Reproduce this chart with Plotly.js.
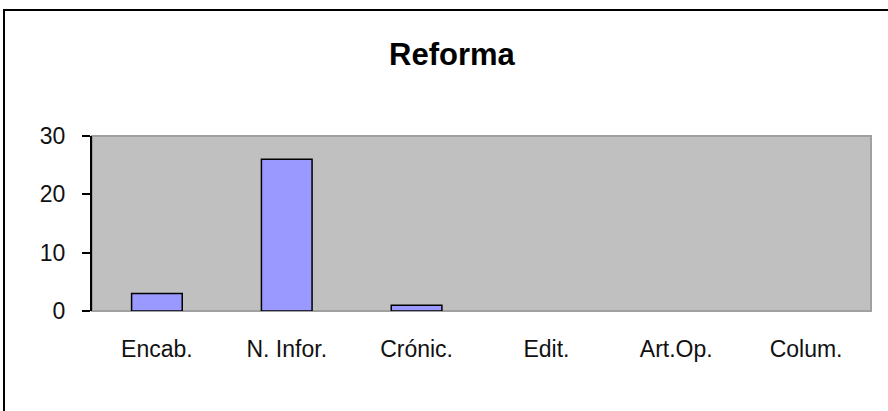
<!DOCTYPE html>
<html>
<head>
<meta charset="utf-8">
<script src="https://cdn.plot.ly/plotly-3.0.1.min.js"></script>
<style>
html,body{margin:0;padding:0;background:#fff;}
#wrap{position:relative;width:888px;height:411px;overflow:hidden;}
#chart{position:absolute;left:0;top:0;width:888px;height:411px;}
#frame{position:absolute;left:3px;top:9px;width:900px;height:420px;border-top:2px solid #000;border-left:2px solid #000;pointer-events:none;}
</style>
</head>
<body>
<div id="wrap"><div id="chart"></div><div id="frame"></div></div>
<script>
const chartTitle = "Reforma";
const categories = ["Encab.", "N. Infor.", "Crónic.", "Edit.", "Art.Op.", "Colum."];
const values = [3, 26, 1, 0, 0, 0];
const yTicks = [0, 10, 20, 30];

const font = "Arial, 'Liberation Sans', sans-serif";

const trace = {
  type: "bar",
  x: categories,
  y: values,
  marker: {
    color: "#9999ff",
    line: {color: "#000000", width: values.map(v => v === 0 ? 0 : 1.5)}
  },
  hoverinfo: "x+y"
};

const layout = {
  width: 888,
  height: 411,
  margin: {l: 92, r: 17, t: 136, b: 100},
  paper_bgcolor: "#ffffff",
  plot_bgcolor: "#c0c0c0",
  bargap: 0.61,
  showlegend: false,
  title: {
    text: "<b>" + chartTitle + "</b>",
    font: {family: font, size: 31, color: "#000"},
    x: 452 / 888, xref: "container", xanchor: "center",
    y: 1 - 54 / 411, yref: "container", yanchor: "middle"
  },
  xaxis: {
    type: "category",
    showline: false,
    ticks: "",
    showgrid: false,
    zeroline: false,
    tickfont: {family: font, size: 23, color: "#111"},
    ticklabelstandoff: 22
  },
  yaxis: {
    range: [0, 30],
    tickvals: yTicks,
    ticktext: yTicks.map(String),
    showgrid: false,
    zeroline: false,
    showline: true,
    linecolor: "#000",
    linewidth: 2,
    ticks: "outside",
    ticklen: 8,
    tickwidth: 2,
    tickcolor: "#000",
    tickfont: {family: font, size: 23, color: "#111"},
    ticklabelstandoff: 12
  },
  shapes: [
    {type: "rect", xref: "paper", yref: "paper", x0: 0, x1: 1, y0: 0, y1: 1,
     line: {color: "#a0a0a0", width: 2}, layer: "below"}
  ]
};

Plotly.newPlot("chart", [trace], layout, {staticPlot: true, displayModeBar: false});
</script>
</body>
</html>
